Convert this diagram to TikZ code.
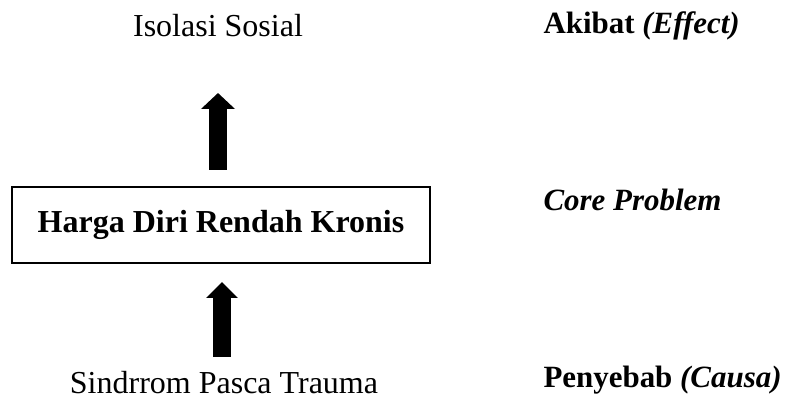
\documentclass[tikz,border=0pt]{standalone}
\usepackage{fontspec}
\setmainfont{Liberation Serif}
\usetikzlibrary{arrows.meta,positioning}
\definecolor{Ink}{HTML}{000000}
\definecolor{Paper}{HTML}{FFFFFF}
\tikzset{
  corebox/.style={draw=Ink,fill=Paper,line width=1.1pt,minimum width=156.75pt,minimum height=28.5pt,inner sep=0pt,align=center,font=\fontsize{12}{14}\selectfont\bfseries,text=Ink},
  term/.style={anchor=base,inner sep=0pt,font=\fontsize{12}{14}\selectfont,text=Ink},
  side/.style={anchor=base west,inner sep=0pt,font=\fontsize{11.6}{14}\selectfont\bfseries,text=Ink},
  bigarr/.style={-{Triangle[width=12.4pt,length=6pt]},draw=Ink,line width=7.1pt}
}

\begin{document}
\begin{tikzpicture}[x=0.375pt,y=-0.375pt]
  \useasboundingbox (0,0) rectangle (786,401);
  \node[corebox] (core) at (221,225) {Harga Diri Rendah Kronis};
  \node[term] (effect) at (218,37) {Isolasi Sosial};
  \node[term] (cause) at (224,394) {Sindrrom Pasca Trauma};
  \node[side] (effLbl) at (543,34) {Akibat \textit{(Effect)}};
  \node[side] (coreLbl) at (543,211) {\textit{Core Problem}};
  \node[side] (causeLbl) at (543,388) {Penyebab \textit{(Causa)}};
  \coordinate (upFrom) at (218,170);
  \coordinate (upTo) at (218,93);
  \coordinate (lowFrom) at (222,357);
  \coordinate (lowTo) at (222,282);
  \draw[bigarr] (upFrom) -- (upTo);
  \draw[bigarr,line width=6.4pt,-{Triangle[width=11.6pt,length=6pt]}] (lowFrom) -- (lowTo);
\end{tikzpicture}
\end{document}
